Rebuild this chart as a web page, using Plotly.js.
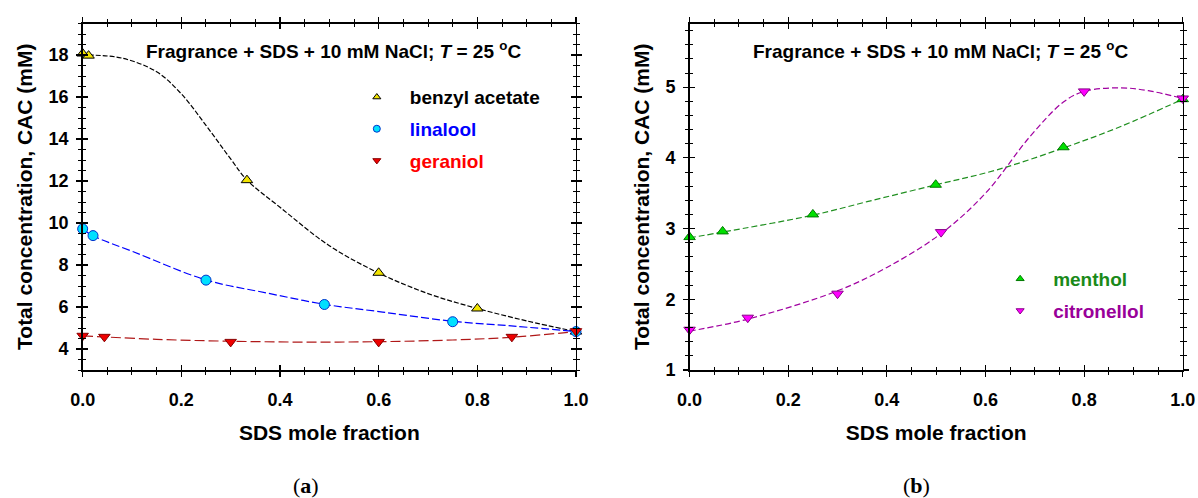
<!DOCTYPE html>
<html>
<head>
<meta charset="utf-8">
<script src="https://cdn.plot.ly/plotly-3.0.1.min.js"></script>
<style>
  html, body { margin: 0; padding: 0; background: #fff; }
  #chart { width: 1198px; height: 498px; }
</style>
</head>
<body>
<div id="chart"></div>
<script>
// ---- Panel (a): fragrance + SDS mixtures, measured CAC ----
const baX  = [0, 0.012, 0.333, 0.6, 0.8, 1.0];
const baY  = [18.07, 17.97, 12.04, 7.63, 5.93, 4.83];
const linX = [0, 0.021, 0.25, 0.49, 0.75, 1.0];
const linY = [9.72, 9.40, 7.28, 6.12, 5.30, 4.83];
const gerX = [0, 0.044, 0.30, 0.60, 0.87, 1.0];
const gerY = [4.63, 4.58, 4.34, 4.34, 4.58, 4.85];

// fitted curves, panel (a)
const baFitX  = [0.012, 0.08, 0.15, 0.2, 0.25, 0.3, 0.333, 0.4, 0.5, 0.6, 0.7, 0.8, 0.9, 1.0];
const baFitY  = [18.0, 17.85, 17.2, 16.15, 14.65, 13.05, 12.05, 10.75, 8.92, 7.62, 6.64, 5.93, 5.34, 4.83];
const linFitX = [0, 0.021, 0.104, 0.25, 0.375, 0.49, 0.608, 0.75, 0.88, 1.0];
const linFitY = [9.71, 9.39, 8.62, 7.29, 6.66, 6.13, 5.76, 5.32, 5.08, 4.83];
const gerFitX = [0, 0.15, 0.30, 0.45, 0.60, 0.75, 0.87, 1.0];
const gerFitY = [4.63, 4.46, 4.37, 4.33, 4.35, 4.43, 4.56, 4.83];

// ---- Panel (b) ----
const menX = [0, 0.067, 0.25, 0.499, 0.758, 1.0];
const menY = [2.88, 2.96, 3.20, 3.62, 4.15, 4.83];
const citX = [0, 0.118, 0.30, 0.51, 0.80, 1.0];
const citY = [1.57, 1.74, 2.08, 2.95, 4.94, 4.84];

const menFitX = [0, 0.067, 0.25, 0.36, 0.5, 0.623, 0.758, 0.873, 1.0];
const menFitY = [2.87, 2.95, 3.19, 3.38, 3.62, 3.83, 4.14, 4.44, 4.83];
const citFitX = [0, 0.118, 0.30, 0.40, 0.51, 0.60, 0.69, 0.758, 0.80, 0.873, 0.93, 1.0];
const citFitY = [1.55, 1.72, 2.12, 2.45, 2.93, 3.50, 4.30, 4.79, 4.94, 4.99, 4.95, 4.84];

// axis settings
const xTickVals = [0, 0.2, 0.4, 0.6, 0.8, 1.0];
const xTickText = ['0.0', '0.2', '0.4', '0.6', '0.8', '1.0'];
const yTickValsA = [4, 6, 8, 10, 12, 14, 16, 18];
const yTickValsB = [1, 2, 3, 4, 5];

const titleText = 'Fragrance + SDS + 10 mM NaCl; <i>T</i> = 25 <sup>o</sup>C';
const xTitle = 'SDS mole fraction';
const yTitle = 'Total concentration, CAC (mM)';

const FONT = 'Liberation Sans, Arial, sans-serif';

function fit(x, y, color, dash, xa, ya) {
  return { x: x, y: y, xaxis: xa, yaxis: ya, mode: 'lines', type: 'scatter',
    line: { color: color, width: 1.2, dash: dash, shape: 'spline', smoothing: 1 },
    showlegend: false, hoverinfo: 'skip' };
}
function pts(x, y, symbol, size, fill, edge, xa, ya) {
  return { x: x, y: y, xaxis: xa, yaxis: ya, mode: 'markers', type: 'scatter',
    cliponaxis: false,
    marker: { symbol: symbol, size: size, color: fill, line: { color: edge, width: 1 } },
    showlegend: false };
}
function key(name, textColor, symbol, fill, edge, legend, xa, ya) {
  return { x: [null], y: [null], xaxis: xa, yaxis: ya, mode: 'markers', type: 'scatter',
    name: '<span style="color:' + textColor + '">' + name + '</span>',
    legend: legend, legendgroup: name,
    marker: { symbol: symbol, size: 7, color: fill, line: { color: edge, width: 1 } } };
}

const traces = [
  fit(baFitX, baFitY, '#000000', '5px,2px', 'x', 'y'),
  fit(linFitX, linFitY, '#0000ff', '8px,3px', 'x', 'y'),
  fit(gerFitX, gerFitY, '#b01818', '10px,4px', 'x', 'y'),
  pts(baX, baY, 'triangle-up', 10, '#f2e400', '#000000', 'x', 'y'),
  pts(linX, linY, 'circle', 10, '#00e0ff', '#0033cc', 'x', 'y'),
  pts(gerX, gerY, 'triangle-down', 10, '#ee0000', '#880000', 'x', 'y'),

  fit(menFitX, menFitY, '#1f8f1f', '6px,3px', 'x2', 'y2'),
  fit(citFitX, citFitY, '#a000a0', '6px,3px', 'x2', 'y2'),
  pts(menX, menY, 'triangle-up', 10, '#00e000', '#007700', 'x2', 'y2'),
  pts(citX, citY, 'triangle-down', 10, '#ff00ff', '#880088', 'x2', 'y2'),

  key('benzyl acetate', '#000000', 'triangle-up', '#f2e400', '#000000', 'legend', 'x3', 'y3'),
  key('linalool', '#0000ff', 'circle', '#00e0ff', '#0033cc', 'legend', 'x3', 'y3'),
  key('geraniol', '#ff0000', 'triangle-down', '#ee0000', '#880000', 'legend', 'x3', 'y3'),
  key('menthol', '#1a8a1a', 'triangle-up', '#00e000', '#007700', 'legend2', 'x4', 'y4'),
  key('citronellol', '#990099', 'triangle-down', '#ff00ff', '#880088', 'legend2', 'x4', 'y4')
];

const tickFont = { family: FONT, size: 18, color: '#000', weight: 700 };
const titleFont = { family: FONT, size: 21, color: '#000', weight: 700 };

function mainX(domain, anchor) {
  return { domain: domain, anchor: anchor, range: [0, 1], tickvals: xTickVals, ticktext: xTickText,
    ticks: 'outside', ticklen: 5, tickwidth: 1.2, tickcolor: '#000',
    showline: true, linecolor: '#000', linewidth: 1.5, mirror: 'allticks',
    showgrid: false, zeroline: false, tickfont: tickFont, ticklabelstandoff: 8,
    minor: { dtick: 0.05, ticks: 'outside', ticklen: 3, tickwidth: 1, tickcolor: '#000', showgrid: false },
    title: { text: xTitle, font: titleFont, standoff: 16 } };
}
function mainY(domain, anchor, range, vals, minorStep) {
  return { domain: domain, anchor: anchor, range: range, tickvals: vals,
    ticks: 'outside', ticklen: 5, tickwidth: 1.2, tickcolor: '#000',
    showline: true, linecolor: '#000', linewidth: 1.5, mirror: 'allticks',
    showgrid: false, zeroline: false, tickfont: tickFont, ticklabelstandoff: 4,
    minor: { dtick: minorStep, ticks: 'outside', ticklen: 3, tickwidth: 1, tickcolor: '#000', showgrid: false },
    title: { text: yTitle, font: titleFont, standoff: 10 } };
}
// overlay axes carry the inward half of each tick so ticks cross the frame
function innerX(over, anchor, dtickMinor) {
  return { overlaying: over, anchor: anchor, range: [0, 1], tickvals: xTickVals,
    ticks: 'inside', ticklen: 5, tickwidth: 1.2, tickcolor: '#000', showticklabels: false,
    showline: true, linecolor: '#000', linewidth: 1.5, mirror: 'allticks',
    showgrid: false, zeroline: false,
    minor: { dtick: dtickMinor, ticks: 'inside', ticklen: 3, tickwidth: 1, tickcolor: '#000', showgrid: false } };
}
function innerY(over, anchor, range, vals, minorStep) {
  return { overlaying: over, anchor: anchor, range: range, tickvals: vals,
    ticks: 'inside', ticklen: 5, tickwidth: 1.2, tickcolor: '#000', showticklabels: false,
    showline: true, linecolor: '#000', linewidth: 1.5, mirror: 'allticks',
    showgrid: false, zeroline: false,
    minor: { dtick: minorStep, ticks: 'inside', ticklen: 3, tickwidth: 1, tickcolor: '#000', showgrid: false } };
}

const domA = [0.0690, 0.4808];
const domB = [0.5756, 0.9873];
const domY = [0.2570, 0.9528];
const rangeA = [3, 19.5];
const rangeB = [1, 5.9];

const legendCommon = {
  bgcolor: 'rgba(0,0,0,0)', borderwidth: 0, itemwidth: 56, tracegroupgap: 4,
  font: { family: FONT, size: 19, color: '#000', weight: 700 },
  xanchor: 'left', yanchor: 'top', itemclick: false, itemdoubleclick: false
};

const layout = {
  width: 1198, height: 498,
  margin: { l: 0, r: 0, t: 0, b: 0 },
  paper_bgcolor: '#fff', plot_bgcolor: '#fff',
  font: { family: FONT, color: '#000' },
  showlegend: true,
  xaxis: mainX(domA, 'y'),
  yaxis: mainY(domY, 'x', rangeA, yTickValsA, 0.5),
  xaxis2: mainX(domB, 'y2'),
  yaxis2: mainY(domY, 'x2', rangeB, yTickValsB, 0.2),
  xaxis3: innerX('x', 'y3', 0.05),
  yaxis3: innerY('y', 'x3', rangeA, yTickValsA, 0.5),
  xaxis4: innerX('x2', 'y4', 0.05),
  yaxis4: innerY('y2', 'x4', rangeB, yTickValsB, 0.2),
  legend: Object.assign({ x: 0.287, y: 0.843 }, legendCommon),
  legend2: Object.assign({ x: 0.824, y: 0.478 }, legendCommon),
  annotations: [
    { xref: 'x', yref: 'y', x: 0.508, y: 18.24, text: titleText, showarrow: false,
      xanchor: 'center', yanchor: 'middle',
      font: { family: FONT, size: 19, color: '#000', weight: 700 } },
    { xref: 'x2', yref: 'y2', x: 0.509, y: 5.52, text: titleText, showarrow: false,
      xanchor: 'center', yanchor: 'middle',
      font: { family: FONT, size: 19, color: '#000', weight: 700 } },
    { xref: 'paper', yref: 'paper', x: 0.2554, y: 0.026, text: '(<b>a</b>)', showarrow: false,
      xanchor: 'center', yanchor: 'middle',
      font: { family: 'Liberation Serif, serif', size: 22, color: '#000' } },
    { xref: 'paper', yref: 'paper', x: 0.765, y: 0.026, text: '(<b>b</b>)', showarrow: false,
      xanchor: 'center', yanchor: 'middle',
      font: { family: 'Liberation Serif, serif', size: 22, color: '#000' } }
  ]
};

Plotly.newPlot('chart', traces, layout, { staticPlot: true, displayModeBar: false });
</script>
</body>
</html>
